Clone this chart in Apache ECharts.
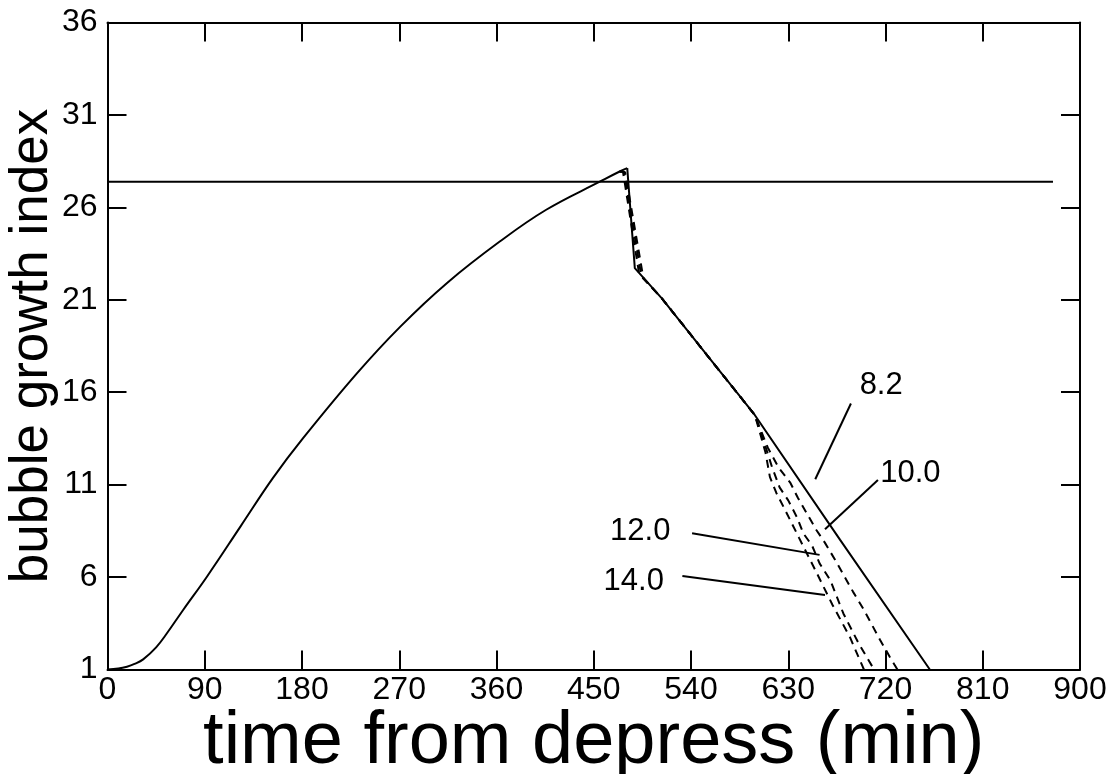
<!DOCTYPE html>
<html>
<head>
<meta charset="utf-8">
<title>bubble growth index</title>
<script src="https://cdn.jsdelivr.net/npm/echarts@6/dist/echarts.min.js"></script>
<style>
  html, body { margin: 0; padding: 0; background: #fff; }
  #chart { width: 1114px; height: 774px; }
</style>
</head>
<body>
<div id="chart"></div>
<script>
// time (min) / bubble growth index
// 8.2 curve, split into the rise (smoothed) and the fall
const tRise = [0, 10, 18, 25, 33, 45, 55, 70, 92, 123, 153, 181, 231, 271, 314, 363, 406, 456, 474, 481];
const vRise = [1, 1.05, 1.15, 1.3, 1.55, 2.2, 2.96, 4.22, 6.02, 8.73, 11.35, 13.51, 17.03, 19.55, 21.9, 24.15, 25.87, 27.4, 27.94, 28.12];
const tFall82 = [481, 488, 513, 567, 585, 599, 678, 761];
const vFall82 = [28.12, 22.71, 21.08, 17.11, 15.8, 14.77, 8.01, 1];

const t10 = [474, 477, 492, 513, 567, 585, 599, 611, 621, 632, 639, 648, 656, 664, 675, 690, 699, 715, 724, 731];
const v10 = [27.94, 27.95, 22.4, 21.08, 17.11, 15.8, 14.77, 13.01, 11.93, 11.09, 10.28, 9.36, 8.55, 7.85, 6.77, 5.2, 4.33, 2.6, 1.68, 1];

const t12 = [474, 478, 494, 513, 567, 585, 599, 606, 615, 622, 630, 638, 644, 652, 659, 669, 681, 695, 708, 710];
const v12 = [27.94, 27.93, 22.3, 21.08, 17.11, 15.8, 14.77, 13.6, 11.95, 10.85, 10.15, 9.24, 8.36, 7.71, 6.74, 5.82, 4.03, 2.43, 1.14, 1];

const t14 = [474, 479, 496, 513, 567, 585, 599, 604, 609, 613, 619, 627, 640, 655, 671, 687, 699, 700];
const v14 = [27.94, 27.9, 22.15, 21.08, 17.11, 15.8, 14.77, 13.77, 12.72, 11.42, 10.55, 9.64, 8.12, 6.38, 4.49, 2.76, 1.14, 1];

// horizontal limit line
const tLimit = [0, 875];
const vLimit = [27.38, 27.38];

// curve labels and their leader lines
const labelNames = ['8.2', '10.0', '12.0', '14.0'];
const labelT = [716, 743, 493, 487];
const labelV = [16.39, 11.58, 8.49, 5.79];
const leaderT = [[688, 655], [713, 664], [541, 659], [532, 664]];
const leaderV = [[15.39, 11.29], [11.25, 8.59], [8.37, 7.2], [6.06, 5.03]];

const xTicks = { min: 0, max: 900, interval: 90 };
const yTicks = { min: 1, max: 36, interval: 5 };

const zip = (ts, vs) => ts.map((t, i) => [t, vs[i]]);
const font = "'Liberation Sans', Arial, sans-serif";

const chart = echarts.init(document.getElementById('chart'));

const axisCommon = {
  axisLine: { show: true, onZero: false, lineStyle: { color: '#000', width: 2 } },
  axisTick: { show: true, inside: true, length: 19, lineStyle: { color: '#000', width: 2 } },
  splitLine: { show: false }
};

const curve = (data, dashed, smooth) => ({
  type: 'line',
  data: data,
  symbol: 'none',
  smooth: smooth ? 0.4 : false,
  lineStyle: { color: '#000', width: 2, type: dashed ? [8, 6] : 'solid' },
  z: dashed ? 3 : 4,
  animation: false
});

const leaders = leaderT.map((ts, i) => ({
  type: 'line',
  data: zip(ts, leaderV[i]),
  symbol: 'none',
  lineStyle: { color: '#000', width: 2 },
  animation: false
}));

const option = {
  backgroundColor: '#fff',
  grid: { left: 107.5, right: 34, top: 22.5, bottom: 104.5, outerBoundsMode: 'none', containLabel: false },
  xAxis: [
    Object.assign({
      type: 'value',
      min: xTicks.min, max: xTicks.max, interval: xTicks.interval,
      name: 'time from depress (min)',
      nameLocation: 'middle',
      nameGap: 36,
      nameMoveOverlap: false,
      nameTextStyle: { fontFamily: font, fontSize: 74, color: '#000', verticalAlign: 'top', lineHeight: 74 },
      axisLabel: { fontFamily: font, fontSize: 32, color: '#000', margin: 5 }
    }, axisCommon),
    Object.assign({
      type: 'value', position: 'top',
      min: xTicks.min, max: xTicks.max, interval: xTicks.interval,
      axisLabel: { show: false }
    }, axisCommon)
  ],
  yAxis: [
    Object.assign({
      type: 'value',
      min: yTicks.min, max: yTicks.max, interval: yTicks.interval,
      name: 'bubble growth index',
      nameLocation: 'middle',
      nameGap: 49,
      nameMoveOverlap: false,
      nameTextStyle: { fontFamily: font, fontSize: 53, color: '#000' },
      axisLabel: { fontFamily: font, fontSize: 32, color: '#000', margin: 10 }
    }, axisCommon),
    Object.assign({
      type: 'value', position: 'right',
      min: yTicks.min, max: yTicks.max, interval: yTicks.interval,
      axisLabel: { show: false }
    }, axisCommon)
  ],
  series: [
    curve(zip(tLimit, vLimit), false, false),
    curve(zip(t14, v14), true, false),
    curve(zip(t12, v12), true, false),
    curve(zip(t10, v10), true, false),
    curve(zip(tRise, vRise), false, true),
    curve(zip(tFall82, vFall82), false, false),
    ...leaders,
    {
      type: 'scatter',
      symbolSize: 0,
      data: labelNames.map((n, i) => ({ name: n, value: [labelT[i], labelV[i]] })),
      itemStyle: { opacity: 1 },
      label: {
        show: true,
        position: 'inside',
        formatter: p => p.name,
        fontFamily: font,
        fontSize: 31,
        color: '#000',
        opacity: 1
      },
      animation: false
    }
  ]
};

chart.setOption(option);
</script>
</body>
</html>
